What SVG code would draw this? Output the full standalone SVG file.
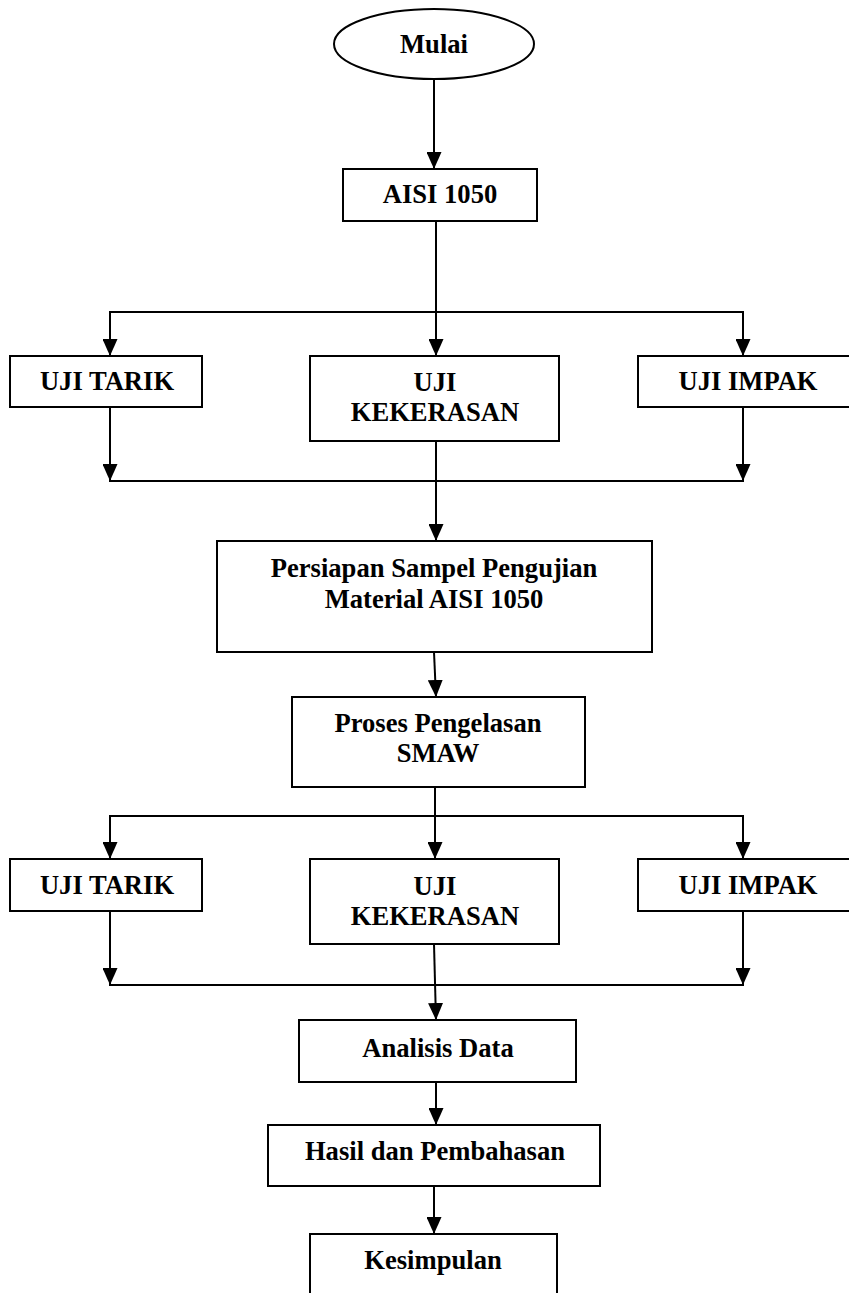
<svg xmlns="http://www.w3.org/2000/svg" width="849" height="1293" viewBox="0 0 849 1293">
<style>
.box{fill:#fff;stroke:#000;stroke-width:2}
.t{font-family:"Liberation Serif","Times New Roman",serif;font-weight:bold;font-size:26.6px;text-anchor:middle;fill:#000}
.c{fill:none;stroke:#000;stroke-width:2}
.a{marker-end:url(#ah)}
</style>
<defs>
<marker id="ah" markerUnits="userSpaceOnUse" markerWidth="17" markerHeight="15" refX="17" refY="7.5" orient="auto">
<path d="M0,0 L17,7.5 L0,15 z" fill="#000"/>
</marker>
</defs>
<rect width="849" height="1293" fill="#fff"/>
<g id="connectors">
<line class="c a" x1="434" y1="79" x2="434" y2="169"/>
<line class="c a" x1="436" y1="221" x2="436" y2="356"/>
<line class="c" x1="109" y1="312" x2="744" y2="312"/>
<line class="c a" x1="110" y1="312" x2="110" y2="356"/>
<line class="c a" x1="743" y1="312" x2="743" y2="356"/>
<line class="c a" x1="110" y1="407" x2="110" y2="481"/>
<line class="c a" x1="743" y1="407" x2="743" y2="481"/>
<line class="c" x1="109" y1="481" x2="744" y2="481"/>
<line class="c a" x1="436" y1="441" x2="436" y2="541"/>
<line class="c a" x1="434" y1="652" x2="436" y2="697"/>
<line class="c a" x1="435" y1="787" x2="435" y2="859"/>
<line class="c" x1="109" y1="816" x2="744" y2="816"/>
<line class="c a" x1="110" y1="816" x2="110" y2="859"/>
<line class="c a" x1="743" y1="816" x2="743" y2="859"/>
<line class="c a" x1="110" y1="911" x2="110" y2="985"/>
<line class="c a" x1="743" y1="911" x2="743" y2="985"/>
<line class="c" x1="109" y1="985" x2="744" y2="985"/>
<line class="c a" x1="434" y1="944" x2="436" y2="1020"/>
<line class="c a" x1="436" y1="1082" x2="436" y2="1125"/>
<line class="c a" x1="434" y1="1186" x2="434" y2="1234"/>
</g>
<g id="mulai">
<ellipse class="box" cx="434" cy="44" rx="100" ry="35"/>
<text class="t" x="434" y="53">Mulai</text>
</g>
<g id="aisi">
<rect class="box" x="343" y="169" width="194" height="52"/>
<text class="t" x="440" y="203">AISI 1050</text>
</g>
<g id="tarik1">
<rect class="box" x="10" y="356" width="192" height="51"/>
<text class="t" x="107" y="390">UJI TARIK</text>
</g>
<g id="keras1">
<rect class="box" x="310" y="356" width="249" height="85"/>
<text class="t" x="435" y="391">UJI</text>
<text class="t" x="435" y="421">KEKERASAN</text>
</g>
<g id="impak1">
<rect class="box" x="638" y="356" width="220" height="51"/>
<text class="t" x="748" y="390">UJI IMPAK</text>
</g>
<g id="persiapan">
<rect class="box" x="217" y="541" width="435" height="111"/>
<text class="t" x="434" y="577">Persiapan Sampel Pengujian</text>
<text class="t" x="434" y="608">Material AISI 1050</text>
</g>
<g id="proses">
<rect class="box" x="292" y="697" width="293" height="90"/>
<text class="t" x="438" y="732">Proses Pengelasan</text>
<text class="t" x="438" y="762">SMAW</text>
</g>
<g id="tarik2">
<rect class="box" x="10" y="859" width="192" height="52"/>
<text class="t" x="107" y="894">UJI TARIK</text>
</g>
<g id="keras2">
<rect class="box" x="310" y="859" width="249" height="85"/>
<text class="t" x="435" y="895">UJI</text>
<text class="t" x="435" y="925">KEKERASAN</text>
</g>
<g id="impak2">
<rect class="box" x="638" y="859" width="220" height="52"/>
<text class="t" x="748" y="894">UJI IMPAK</text>
</g>
<g id="analisis">
<rect class="box" x="299" y="1020" width="277" height="62"/>
<text class="t" x="438" y="1057">Analisis Data</text>
</g>
<g id="hasil">
<rect class="box" x="268" y="1125" width="332" height="61"/>
<text class="t" x="435" y="1160">Hasil dan Pembahasan</text>
</g>
<g id="kesimpulan">
<rect class="box" x="310" y="1234" width="247" height="80"/>
<text class="t" x="433" y="1269">Kesimpulan</text>
</g>
</svg>
